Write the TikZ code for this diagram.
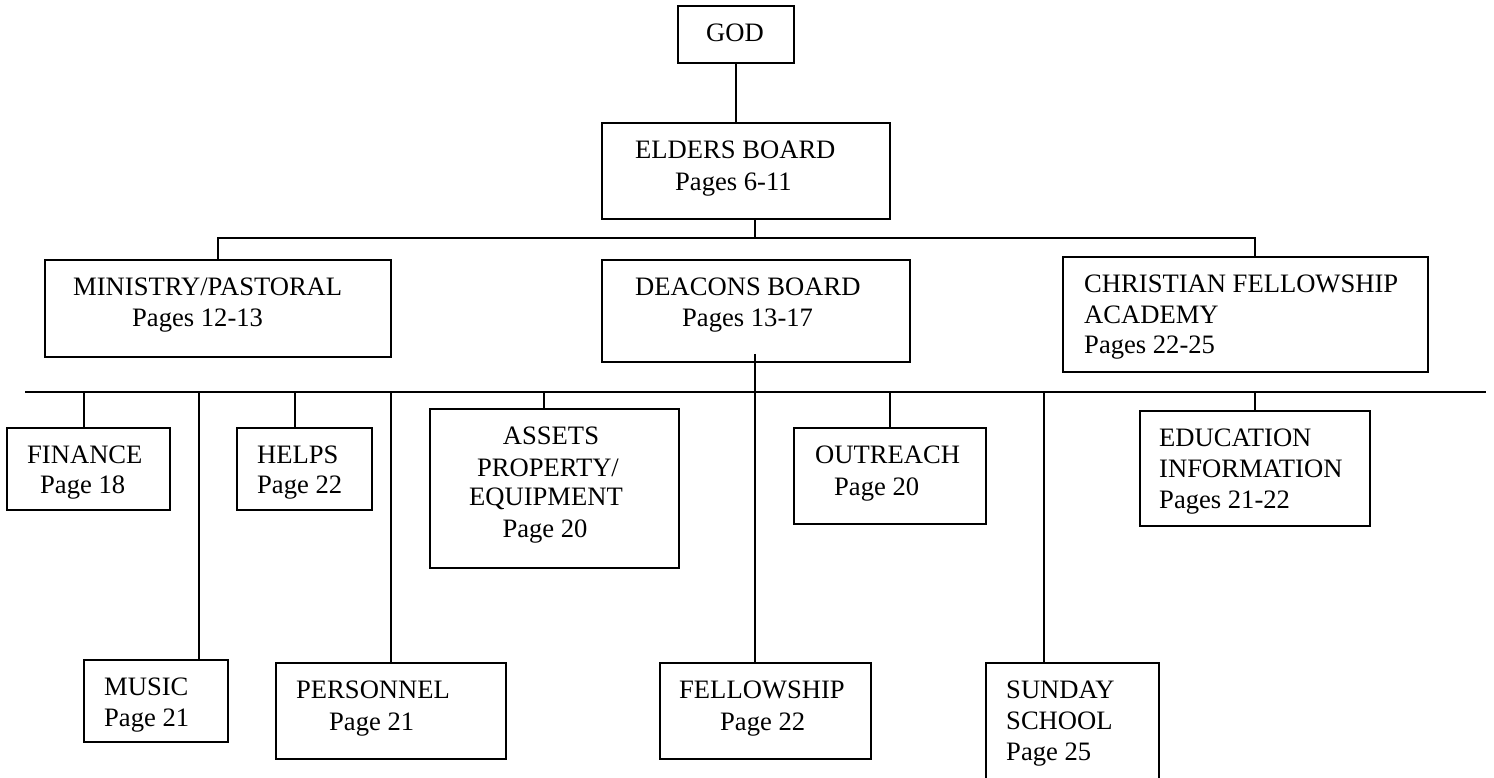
\documentclass[tikz,border=0pt]{standalone}
\usepackage{fontspec}
\setmainfont{Liberation Serif}
\begin{document}
\begin{tikzpicture}[x=1pt,y=-1pt,
  box/.style={draw,line width=1.8pt,rectangle,inner sep=0pt},
  conn/.style={line width=1.8pt},
  txt/.style={inner sep=0pt,anchor=base west,font=\fontsize{26.6}{30}\selectfont},
  ctxt/.style={txt,anchor=base}]
\useasboundingbox (0,0) rectangle (1494,778);
\clip (0,0) rectangle (1494,778);
% boxes
\node[box,minimum width=116pt,minimum height=57pt] (god) at (736,34.5) {};
\node[box,minimum width=288pt,minimum height=96pt] (eld) at (746,171) {};
\node[box,minimum width=346pt,minimum height=97pt] (min) at (218,308.5) {};
\node[box,minimum width=308pt,minimum height=102pt] (dea) at (756,311) {};
\node[box,minimum width=365pt,minimum height=115pt] (cfa) at (1245.5,314.5) {};
\node[box,minimum width=163pt,minimum height=82pt] (fin) at (88.5,469) {};
\node[box,minimum width=135pt,minimum height=82pt] (hel) at (304.5,469) {};
\node[box,minimum width=249pt,minimum height=159pt] (ass) at (554.5,488.5) {};
\node[box,minimum width=192pt,minimum height=96pt] (out) at (890,476) {};
\node[box,minimum width=230pt,minimum height=115pt] (edu) at (1255,468.5) {};
\node[box,minimum width=144pt,minimum height=82pt] (mus) at (156,701) {};
\node[box,minimum width=230pt,minimum height=96pt] (per) at (391,711) {};
\node[box,minimum width=211pt,minimum height=96pt] (fel) at (765.5,711) {};
\node[box,minimum width=173pt,minimum height=137pt] (sun) at (1072.5,731.5) {};
% texts
\node[txt] (god-t) at (706,42) {GOD};
\node[txt] (eld-t1) at (635,159) {ELDERS BOARD};
\node[txt] (eld-t2) at (675,191) {Pages 6-11};
\node[txt] (min-t1) at (73,295) {MINISTRY/PASTORAL};
\node[txt] (min-t2) at (132,326) {Pages 12-13};
\node[txt] (dea-t1) at (635,295) {DEACONS BOARD};
\node[txt] (dea-t2) at (682,326) {Pages 13-17};
\node[txt] (cfa-t1) at (1084,292) {CHRISTIAN FELLOWSHIP};
\node[txt] (cfa-t2) at (1084,323) {ACADEMY};
\node[txt] (cfa-t3) at (1084,353) {Pages 22-25};
\node[txt] (fin-t1) at (27,463) {FINANCE};
\node[txt] (fin-t2) at (40,493) {Page 18};
\node[txt] (hel-t1) at (257,463) {HELPS};
\node[txt] (hel-t2) at (257,493) {Page 22};
\node[ctxt] (ass-t1) at (551,444) {ASSETS};
\node[ctxt] (ass-t2) at (548,476) {PROPERTY/};
\node[ctxt] (ass-t3) at (546,505) {EQUIPMENT};
\node[ctxt] (ass-t4) at (545,537) {Page 20};
\node[txt] (out-t1) at (815,463) {OUTREACH};
\node[txt] (out-t2) at (834,495) {Page 20};
\node[txt] (edu-t1) at (1159,446) {EDUCATION};
\node[txt] (edu-t2) at (1159,477) {INFORMATION};
\node[txt] (edu-t3) at (1159,508) {Pages 21-22};
\node[txt] (mus-t1) at (104,695) {MUSIC};
\node[txt] (mus-t2) at (104,726) {Page 21};
\node[txt] (per-t1) at (296,698) {PERSONNEL};
\node[txt] (per-t2) at (329,730) {Page 21};
\node[txt] (fel-t1) at (679,698) {FELLOWSHIP};
\node[txt] (fel-t2) at (720,730) {Page 22};
\node[txt] (sun-t1) at (1006,698) {SUNDAY};
\node[txt] (sun-t2) at (1006,729) {SCHOOL};
\node[txt] (sun-t3) at (1006,760) {Page 25};
% coordinates on the buses
\coordinate (e1) at (755,238);
\coordinate (bl) at (218,238);
\coordinate (br) at (1255,238);
\coordinate (busL) at (25,392);
\coordinate (busR) at (1486,392);
\coordinate (b-fin) at (84,392);
\coordinate (b-mus) at (199,392);
\coordinate (b-hel) at (295,392);
\coordinate (b-per) at (391,392);
\coordinate (b-ass) at (544,392);
\coordinate (b-fel) at (755,392);
\coordinate (b-out) at (890,392);
\coordinate (b-sun) at (1044,392);
\coordinate (b-edu) at (1255,392);
% connectors
\draw[conn] (god.south) -- (god.south |- eld.north);
\draw[conn] (eld.south -| e1) -- (e1);
\draw[conn] (min.north -| bl) -- (bl) -- (br) -- (cfa.north -| br);
\draw[conn] (busL) -- (busR);
\draw[conn] ([yshift=9pt]dea.south -| b-fel) -- (fel.north -| b-fel);
\foreach \n in {fin,mus,hel,per,ass,out,sun,edu}
  \draw[conn] (b-\n) -- (\n.north -| b-\n);
\end{tikzpicture}
\end{document}
